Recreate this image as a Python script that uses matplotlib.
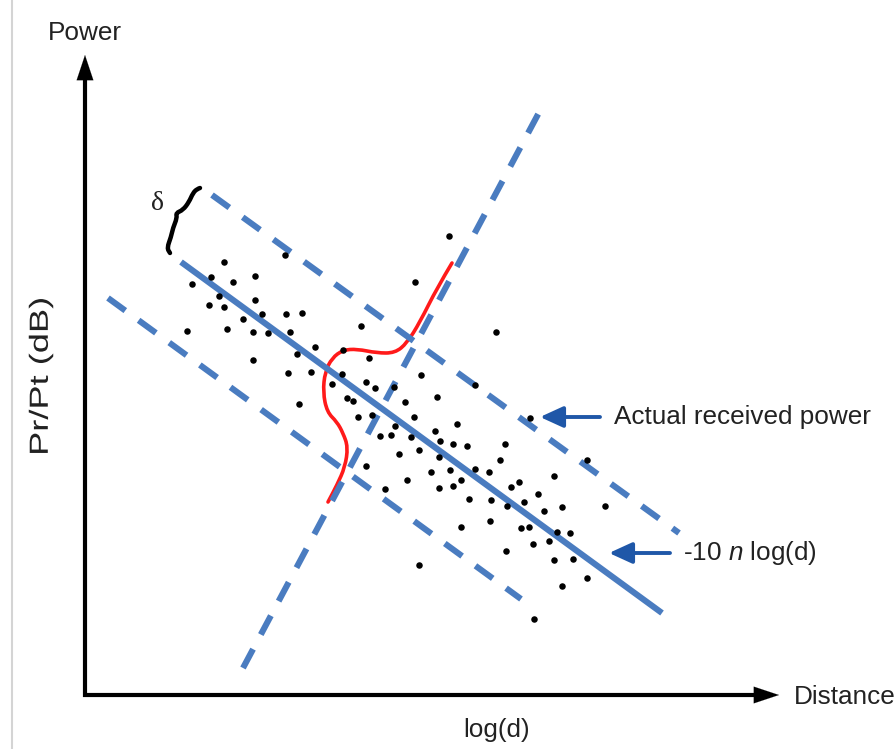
import numpy as np
import matplotlib
matplotlib.use('Agg')
import matplotlib.pyplot as plt
import matplotlib.transforms as mtransforms
from matplotlib.path import Path
from matplotlib.patches import PathPatch
from matplotlib.textpath import TextPath
from matplotlib.font_manager import FontProperties

plt.rcParams['font.family'] = ['Liberation Sans', 'DejaVu Sans']
plt.rcParams['mathtext.fontset'] = 'custom'
plt.rcParams['mathtext.it'] = 'Liberation Sans:italic'
plt.rcParams['mathtext.rm'] = 'Liberation Sans'

# scatter of received power samples (pixel space of the sketch)
dots_x = [285, 224, 211, 255, 192, 233, 219, 209, 224, 255, 243, 262, 286, 302,
          187, 227, 253, 268, 290, 315, 297, 253, 288, 311, 299,
          449, 415, 361, 343, 369, 342, 332, 366, 375, 394, 421, 347, 353, 405,
          437, 358, 372, 414, 457, 496, 475, 530,
          395, 435, 380, 391, 411, 440, 453, 467, 505, 399, 419, 439, 500, 366,
          431, 450, 475, 489, 461, 407, 439, 453, 385, 469, 491, 511, 519, 538,
          554, 587, 605, 507, 524, 544, 562, 490, 461, 521, 529, 557, 570, 533,
          549, 506, 554, 573, 419, 562, 587, 534]
dots_y = [255, 262, 277, 276, 284, 282, 296, 305, 307, 300, 319, 314, 314, 313,
          331, 329, 332, 333, 332, 347, 354, 360, 373, 372, 404,
          236, 282, 326, 350, 358, 374, 384, 382, 388, 387, 375, 398, 401, 402,
          397, 417, 415, 417, 424, 332, 385, 418,
          426, 431, 436, 435, 437, 441, 444, 446, 444, 454, 450, 457, 460, 466,
          472, 470, 469, 472, 480, 480, 488, 486, 489, 499, 500, 487, 482, 494,
          476, 460, 506, 506, 502, 511, 507, 521, 527, 528, 527, 532, 533, 544,
          541, 551, 560, 559, 565, 586, 578, 619]

# regression line and the +/- delta bands, plus the cross-section line
fit_x, fit_y = [181, 662], [262, 613]
upper_x, upper_y = [212, 679], [195, 533]
lower_x, lower_y = [108, 521], [298, 599]
cross_x, cross_y = [243, 543], [668, 105]

# red distribution curve (control points)
pdf_x = [452, 437, 420, 407, 395, 377, 357, 343, 332, 325, 323, 327, 337,
         343, 348, 345, 337, 328]
pdf_y = [263, 288, 322, 343, 353, 353, 349, 350, 358, 372, 392, 412, 422,
         433, 447, 467, 485, 502]

# curly brace marking delta
brace_x = [200, 197, 193, 189, 183, 176, 177, 173, 171, 167, 170]
brace_y = [188, 189, 193, 202, 210, 213, 218, 228, 237, 248, 253]

blue = '#4a7cc0'
arrow_blue = '#1f57a8'
ink = '#222222'


def smooth_path(xs, ys):
    pts = list(zip(xs, ys))
    verts = [pts[0]]
    codes = [Path.MOVETO]
    for i in range(1, len(pts) - 1):
        mid = ((pts[i][0] + pts[i + 1][0]) / 2, (pts[i][1] + pts[i + 1][1]) / 2)
        verts += [pts[i], mid]
        codes += [Path.CURVE3, Path.CURVE3]
    verts.append(pts[-1])
    codes.append(Path.LINETO)
    return Path(verts, codes)


fig = plt.figure(figsize=(8.96, 7.49), dpi=100)
ax = fig.add_axes([0, 0, 1, 1])
ax.set_xlim(0, 896)
ax.set_ylim(749, 0)
ax.axis('off')

# thin grey frame edge on the left
ax.plot([12, 12], [0, 749], color='#d4d4d4', lw=1.5)

# axes with arrows
ax.plot([85, 85], [697, 75], color='black', lw=3, solid_capstyle='butt')
ax.plot([83, 765], [695, 695], color='black', lw=3, solid_capstyle='butt')
for tip, tail in [((85, 55), (85, 90)), ((779, 695), (745, 695))]:
    ax.annotate('', xy=tip, xytext=tail,
                arrowprops=dict(arrowstyle='-|>,head_length=0.9,head_width=0.3',
                                color='black', lw=0.1, mutation_scale=20,
                                shrinkA=0, shrinkB=0))

dash = (3.5, 2.7)
ax.plot(upper_x, upper_y, color=blue, lw=4.4, dashes=dash)
ax.plot(lower_x, lower_y, color=blue, lw=4.4, dashes=dash)
ax.plot(cross_x, cross_y, color=blue, lw=4.4, dashes=dash)
ax.plot(fit_x, fit_y, color=blue, lw=4.4, solid_capstyle='butt')

ax.add_patch(PathPatch(smooth_path(pdf_x, pdf_y), facecolor='none',
                       edgecolor='#ff1a1a', lw=2.6, capstyle='round'))
ax.add_patch(PathPatch(smooth_path(brace_x, brace_y), facecolor='none',
                       edgecolor='black', lw=3.2, capstyle='round'))

ax.scatter(dots_x, dots_y, s=22, color='black', zorder=5, linewidths=0)

# callout arrows
for tail, tip in [((600, 417), (540, 417)), ((670, 553), (609, 553))]:
    ax.annotate('', xy=tip, xytext=tail,
                arrowprops=dict(arrowstyle='-|>,head_length=0.7,head_width=0.32',
                                color=arrow_blue, lw=2.8, mutation_scale=20,
                                shrinkA=0, shrinkB=0))

ax.text(614, 417, 'Actual received power', fontsize=18.8, va='center', ha='left',
        color=ink)
ax.text(683, 553, r'-10 $\it{n}$ log(d)', fontsize=18.8, va='center', ha='left',
        color=ink)
ax.text(85, 33, 'Power', fontsize=18.8, ha='center', va='center', color=ink)
ax.text(794, 697, 'Distance', fontsize=18.8, ha='left', va='center', color=ink)
ax.text(497, 730, 'log(d)', fontsize=18.8, ha='center', va='center', color=ink)
ax.text(157, 203, '\u03b4', fontsize=20, ha='center', va='center',
        family='Liberation Serif', color=ink)

# y label is drawn stretched along its length, as in the source sketch
ylab = TextPath((0, 0), 'Pr/Pt (dB)', size=25,
                prop=FontProperties(family='Liberation Sans'))
ext = ylab.get_extents()
cx, cy = (ext.x0 + ext.x1) / 2, (ext.y0 + ext.y1) / 2
sx, sy = 1.45, 1.05
lab_tf = (mtransforms.Affine2D().translate(-cx, -cy)
          + mtransforms.Affine2D.from_values(0, -sx, -sy, 0, 41, 376))
ax.add_patch(PathPatch(ylab, transform=lab_tf + ax.transData, color=ink, lw=0))

fig.savefig('out.png', dpi=100)
